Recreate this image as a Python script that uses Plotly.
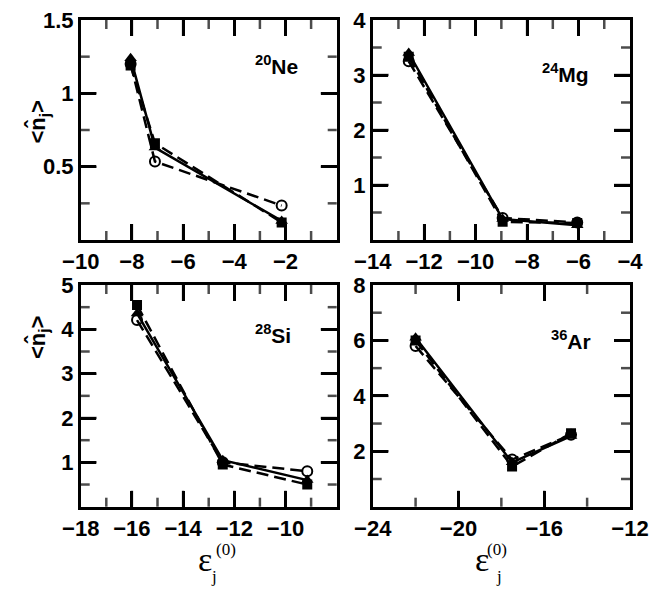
import plotly.graph_objects as go

W, H = 651, 589

# ---------------- data ----------------
ne_x = [-8.05, -7.1, -2.15]
ne_circle = [1.20, 0.535, 0.235]
ne_square = [1.19, 0.66, 0.12]
ne_triangle = [1.24, 0.63, 0.13]

mg_x = [-12.6, -8.95, -6.05]
mg_circle = [3.25, 0.40, 0.32]
mg_square = [3.33, 0.33, 0.31]
mg_triangle = [3.40, 0.38, 0.27]

si_x = [-15.8, -12.45, -9.15]
si_circle = [4.21, 1.00, 0.80]
si_square = [4.55, 0.95, 0.50]
si_triangle = [4.36, 1.05, 0.60]

ar_x = [-22.0, -17.5, -14.75]
ar_circle = [5.80, 1.70, 2.60]
ar_square = [6.00, 1.45, 2.65]
ar_triangle = [6.10, 1.60, 2.55]

labels = ["<sup>20</sup>Ne", "<sup>24</sup>Mg", "<sup>28</sup>Si", "<sup>36</sup>Ar"]

x_ranges = [[-10, 0], [-14, -4], [-18, -8], [-24, -12]]
x_ticks = [[-10, -8, -6, -4, -2], [-14, -12, -10, -8, -6, -4],
           [-18, -16, -14, -12, -10], [-24, -20, -16, -12]]
x_major_marks = [[-8, -6, -4, -2], [-12, -10, -8, -6], [-16, -14, -12, -10], [-20, -16]]
x_minor_marks = [[-9, -7, -5, -3, -1], [-13, -11, -9, -7, -5],
                 [-17, -15, -13, -11, -9], [-22, -18, -14]]
y_ranges = [[0, 1.5], [0, 4], [0, 5], [0, 8]]
y_ticks = [[0.5, 1, 1.5], [1, 2, 3, 4], [1, 2, 3, 4, 5], [2, 4, 6, 8]]
y_ticktext = [["0.5", "1", "1.5"], ["1", "2", "3", "4"], ["1", "2", "3", "4", "5"],
              ["2", "4", "6", "8"]]
y_major_marks = [[0.5, 1], [1, 2, 3], [1, 2, 3, 4], [2, 4, 6]]
y_minor_marks = [[0.25, 0.75, 1.25], [0.5, 1.5, 2.5, 3.5], [0.5, 1.5, 2.5, 3.5, 4.5],
                 [1, 3, 5, 7]]
label_pos = [(-2.37, 1.19), (-6.52, 3.04), (-10.49, 3.9), (-14.73, 6.0)]

panels = [
    (ne_x, ne_circle, ne_square, ne_triangle),
    (mg_x, mg_circle, mg_square, mg_triangle),
    (si_x, si_circle, si_square, si_triangle),
    (ar_x, ar_circle, ar_square, ar_triangle),
]

# ---------------- layout geometry (pixels) ----------------
col_px = [(80.7, 336.7), (372.7, 630.0)]
row_px = [(20.0, 240.0), (285.0, 506.7)]
MAJOR_LEN, MINOR_LEN, TICK_W = 16, 9, 2.5


def px_x(p):
    return p / W


def px_y(p):
    return 1 - p / H


def axname(prefix, n):
    return prefix if n == 1 else f"{prefix}{n}"


fig = go.Figure()
tickfont = dict(family="Liberation Sans, Arial", size=22, color="black", weight="bold")
axis_common = dict(showgrid=False, zeroline=False, automargin=False,
                   ticks="inside", ticklen=MAJOR_LEN, tickwidth=TICK_W, tickcolor="black",
                   showline=True, linecolor="black", linewidth=2.5, mirror="ticks",
                   tickfont=tickfont, tickmode="array")

for i, (xs, yc, ys, yt) in enumerate(panels):
    n = i + 1
    xa, ya = axname("x", n), axname("y", n)
    r, c = divmod(i, 2)
    x0, x1 = col_px[c]
    y0, y1 = row_px[r]
    pw, ph = x1 - x0, y1 - y0
    xr, yr = x_ranges[i], y_ranges[i]
    dx_per_px = (xr[1] - xr[0]) / pw
    dy_per_px = (yr[1] - yr[0]) / ph

    # inside tick marks on all four sides, drawn as line markers from the tick arrays
    vx, vy, vs = [], [], []
    for marks, ln in ((x_major_marks[i], MAJOR_LEN), (x_minor_marks[i], MINOR_LEN)):
        h = ln / 2 * dy_per_px
        for v in marks:
            vx += [v, v]
            vy += [yr[0] + h, yr[1] - h]
            vs += [ln / 1.4, ln / 1.4]
    hx, hy, hs = [], [], []
    for marks, ln in ((y_major_marks[i], MAJOR_LEN), (y_minor_marks[i], MINOR_LEN)):
        h = ln / 2 * dx_per_px
        for v in marks:
            hx += [xr[0] + h, xr[1] - h]
            hy += [v, v]
            hs += [ln / 1.4, ln / 1.4]
    fig.add_trace(go.Scatter(x=vx, y=vy, mode="markers", xaxis=xa, yaxis=ya,
                             marker=dict(symbol="line-ns-open", size=vs, color="black",
                                         line=dict(width=TICK_W, color="black")),
                             showlegend=False, hoverinfo="skip", cliponaxis=False))
    fig.add_trace(go.Scatter(x=hx, y=hy, mode="markers", xaxis=xa, yaxis=ya,
                             marker=dict(symbol="line-ew-open", size=hs, color="black",
                                         line=dict(width=TICK_W, color="black")),
                             showlegend=False, hoverinfo="skip", cliponaxis=False))

    common = dict(xaxis=xa, yaxis=ya, showlegend=False, mode="lines+markers")
    fig.add_trace(go.Scatter(x=xs, y=yc, line=dict(color="black", width=2.5, dash="12px,6px"),
                             marker=dict(symbol="circle-open", size=10, color="black",
                                         line=dict(width=2, color="black")), **common))
    fig.add_trace(go.Scatter(x=xs, y=ys, line=dict(color="black", width=2.5, dash="12px,6px"),
                             marker=dict(symbol="square", size=10, color="black"), **common))
    fig.add_trace(go.Scatter(x=xs, y=yt, line=dict(color="black", width=2.5),
                             marker=dict(symbol="triangle-up", size=11, color="black"), **common))

    fig.update_layout(**{
        axname("xaxis", n): dict(domain=[px_x(x0), px_x(x1)], range=xr, anchor=ya,
                                 tickvals=x_ticks[i], **axis_common),
        axname("yaxis", n): dict(domain=[px_y(y1), px_y(y0)], range=yr, anchor=xa,
                                 tickvals=y_ticks[i], ticktext=y_ticktext[i],
                                 **axis_common),
    })

    fig.add_annotation(x=label_pos[i][0], y=label_pos[i][1], xref=xa, yref=ya,
                       text=labels[i], showarrow=False,
                       font=dict(family="Liberation Sans, Arial", size=21, color="black",
                                 weight="bold"))

# y-axis titles
for yc_px in (99, 338):
    fig.add_annotation(x=px_x(22), y=px_y(yc_px), xref="paper", yref="paper",
                       text="<n\u0302<sub>j</sub>>", textangle=-90, showarrow=False,
                       font=dict(family="Liberation Sans, Arial", size=22, color="black",
                                 weight="bold"))

# x-axis titles
serif = "Liberation Serif, Times New Roman"
for cx in (205, 500):
    fig.add_annotation(x=px_x(cx - 9), y=px_y(580), xref="paper", yref="paper",
                       text="\u03b5", showarrow=False,
                       font=dict(family=serif, size=34, color="black"))
    fig.add_annotation(x=px_x(cx + 9), y=px_y(561), xref="paper", yref="paper",
                       text="(0)", showarrow=False,
                       font=dict(family=serif, size=17, color="black"))
    fig.add_annotation(x=px_x(cx + 4), y=px_y(588), xref="paper", yref="paper",
                       text="j", showarrow=False,
                       font=dict(family=serif, size=17, color="black"))

fig.update_layout(width=W, height=H, margin=dict(l=0, r=0, t=0, b=0, pad=0),
                  plot_bgcolor="white", paper_bgcolor="white")

fig.write_html("out.html")
